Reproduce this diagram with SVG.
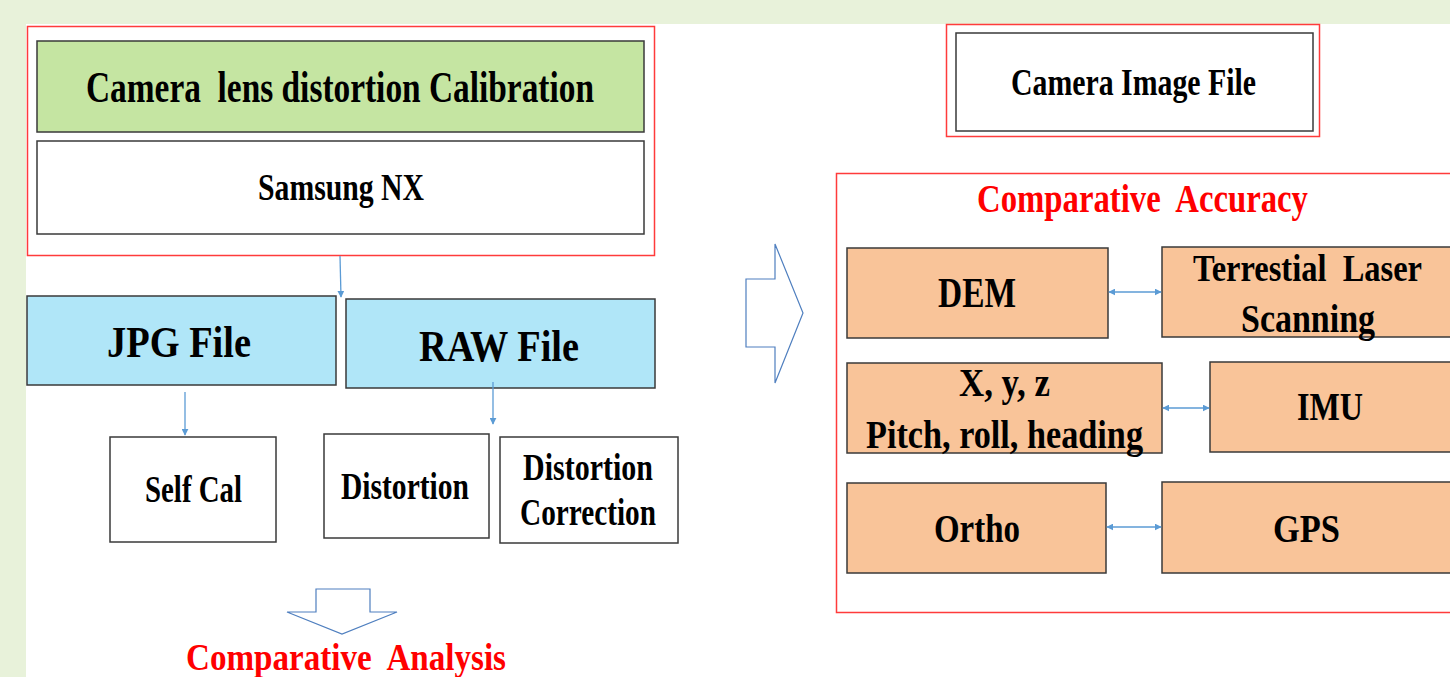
<svg xmlns="http://www.w3.org/2000/svg" width="1450" height="677" viewBox="0 0 1450 677">
<style>
.bx{stroke:#3a3a3a;stroke-width:1.5}
.ob{stroke:#3a3a3a;stroke-width:1.5;fill:none}
.red{fill:none;stroke:#ff3b3b;stroke-width:1.5}
text{font-family:'Liberation Serif','DejaVu Serif',serif;font-weight:bold;fill:#000}
.r{fill:#ff0000}
.con{stroke:#5b9bd5;stroke-width:1.3;fill:none}
.blk{fill:#fff;stroke:#4f7fbf;stroke-width:1.2}
</style>
<defs>
<marker id="ah" viewBox="0 0 10 10" refX="9" refY="5" markerWidth="7" markerHeight="7" orient="auto-start-reverse" markerUnits="userSpaceOnUse">
<path d="M0,0 L10,5 L0,10 z" fill="#5b9bd5"/>
</marker>
</defs>
<rect x="0" y="0" width="1450" height="677" fill="#e8f2da"/>
<rect x="26" y="24" width="1424" height="653" fill="#ffffff"/>

<g id="calib-group">
<rect class="red" x="27.5" y="26.5" width="627" height="229"/>
</g>
<g id="calibration">
<rect class="bx" x="37" y="41" width="607" height="91" fill="#c5e5a2"/>
<text x="86" y="102" font-size="44" textLength="508" lengthAdjust="spacingAndGlyphs" xml:space="preserve">Camera  lens distortion Calibration</text>
</g>
<g id="samsung">
<rect class="bx" x="37" y="141" width="607" height="93" fill="#ffffff"/>
<text x="258" y="200" font-size="37" textLength="166" lengthAdjust="spacingAndGlyphs">Samsung NX</text>
</g>
<g id="jpg">
<rect class="bx" x="27" y="296" width="309" height="89" fill="#b0e6f8"/>
<text x="107" y="357" font-size="44" textLength="144" lengthAdjust="spacingAndGlyphs">JPG File</text>
</g>
<g id="raw">
<rect class="bx" x="346" y="299" width="309" height="89" fill="#b0e6f8"/>
<text x="419" y="361" font-size="44" textLength="160" lengthAdjust="spacingAndGlyphs">RAW File</text>
</g>
<g id="selfcal">
<rect class="bx" x="110" y="437" width="166" height="105" fill="#ffffff"/>
<text x="145" y="502" font-size="37" textLength="97" lengthAdjust="spacingAndGlyphs">Self Cal</text>
</g>
<g id="distortion">
<rect class="bx" x="324" y="434" width="165" height="104" fill="#ffffff"/>
<text x="341" y="499" font-size="37" textLength="128" lengthAdjust="spacingAndGlyphs">Distortion</text>
</g>
<g id="correction">
<rect class="bx" x="500" y="437" width="178" height="106" fill="#ffffff"/>
<text x="523" y="480" font-size="37" textLength="130" lengthAdjust="spacingAndGlyphs">Distortion</text>
<text x="520" y="525" font-size="37" textLength="136" lengthAdjust="spacingAndGlyphs">Correction</text>
</g>
<g id="down-arrow">
<path class="blk" d="M316,589 H370 V612 H397 L342,634 L287,612 H316 Z"/>
</g>
<g id="analysis">
<text class="r" x="186" y="670" font-size="38" textLength="320" lengthAdjust="spacingAndGlyphs" xml:space="preserve">Comparative  Analysis</text>
</g>

<g id="right-arrow">
<path class="blk" d="M746,279 H775 V244 L803,313 L775,383 V347 H746 Z"/>
</g>

<g id="camera-image">
<rect class="red" x="946.5" y="24.5" width="373" height="112"/>
<rect class="bx" x="956" y="33" width="357" height="98" fill="#ffffff"/>
<text x="1011" y="95" font-size="37" textLength="245" lengthAdjust="spacingAndGlyphs">Camera Image File</text>
</g>

<g id="accuracy-group">
<path class="red" d="M1450,173.5 H836.5 V612.5 H1450"/>
<text class="r" x="977" y="212" font-size="40" textLength="331" lengthAdjust="spacingAndGlyphs" xml:space="preserve">Comparative  Accuracy</text>
</g>
<g id="dem">
<rect class="bx" x="847" y="248" width="261" height="90" fill="#f9c499"/>
<text x="938" y="307" font-size="42" textLength="78" lengthAdjust="spacingAndGlyphs">DEM</text>
</g>
<g id="tls">
<rect x="1162" y="247" width="288" height="90" fill="#f9c499"/>
<path class="ob" d="M1450,247 H1162 V337 H1450"/>
<text x="1193" y="281" font-size="38" textLength="229" lengthAdjust="spacingAndGlyphs" xml:space="preserve">Terrestial  Laser</text>
<text x="1241" y="332" font-size="39" textLength="134" lengthAdjust="spacingAndGlyphs">Scanning</text>
</g>
<g id="xyz">
<rect class="bx" x="847" y="363" width="315" height="90" fill="#f9c499"/>
<text x="959" y="396" font-size="40" textLength="91" lengthAdjust="spacingAndGlyphs">X, y, z</text>
<text x="866" y="448" font-size="39" textLength="277" lengthAdjust="spacingAndGlyphs">Pitch, roll, heading</text>
</g>
<g id="imu">
<rect x="1210" y="362" width="240" height="90" fill="#f9c499"/>
<path class="ob" d="M1450,362 H1210 V452 H1450"/>
<text x="1297" y="420" font-size="41" textLength="66" lengthAdjust="spacingAndGlyphs">IMU</text>
</g>
<g id="ortho">
<rect class="bx" x="847" y="483" width="259" height="90" fill="#f9c499"/>
<text x="934" y="542" font-size="41" textLength="86" lengthAdjust="spacingAndGlyphs">Ortho</text>
</g>
<g id="gps">
<rect x="1162" y="482" width="288" height="91" fill="#f9c499"/>
<path class="ob" d="M1450,482 H1162 V573 H1450"/>
<text x="1273" y="542" font-size="41" textLength="67" lengthAdjust="spacingAndGlyphs">GPS</text>
</g>

<g id="connectors">
<line class="con" x1="340" y1="256" x2="341" y2="297" marker-end="url(#ah)"/>
<line class="con" x1="185" y1="392" x2="185" y2="435" marker-end="url(#ah)"/>
<line class="con" x1="493" y1="382" x2="493" y2="424" marker-end="url(#ah)"/>
<line class="con" x1="1109" y1="292" x2="1161" y2="292" marker-start="url(#ah)" marker-end="url(#ah)"/>
<line class="con" x1="1163" y1="408" x2="1209" y2="408" marker-start="url(#ah)" marker-end="url(#ah)"/>
<line class="con" x1="1107" y1="527" x2="1161" y2="527" marker-start="url(#ah)" marker-end="url(#ah)"/>
</g>
</svg>
